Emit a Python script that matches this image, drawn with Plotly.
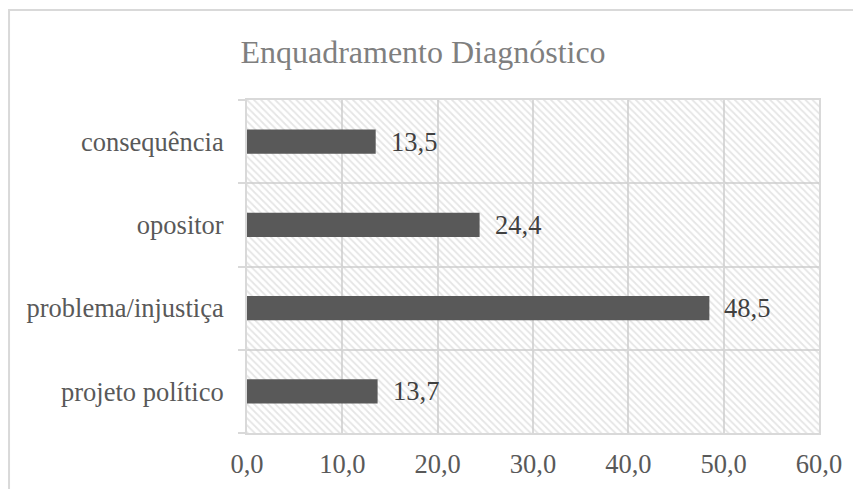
import plotly.graph_objects as go

# data
categories = ["projeto político", "problema/injustiça", "opositor", "consequência"]
values = [13.7, 48.5, 24.4, 13.5]
x_ticks = [0, 10, 20, 30, 40, 50, 60]

FONT = "Liberation Serif"
GRID = "#d9d9d9"

# the page body adds 8px on the top and left, so the figure is 8px smaller
W, H = 853, 481

fig = go.Figure()

# hatched plot background, on the hidden base axes
fig.add_trace(
    go.Scatter(
        x=[0, 1, 1, 0, 0],
        y=[0, 0, 1, 1, 0],
        mode="lines",
        line_width=0,
        fill="toself",
        fillcolor="rgba(0,0,0,0)",
        fillpattern=dict(
            shape="\\",
            size=5,
            solidity=0.35,
            fgcolor="#cccccc",
            bgcolor="rgba(0,0,0,0)",
        ),
        hoverinfo="skip",
        showlegend=False,
    )
)

fig.add_trace(
    go.Bar(
        x=values,
        y=categories,
        orientation="h",
        marker_color="#595959",
        marker_line_width=0,
        xaxis="x2",
        yaxis="y2",
        showlegend=False,
    )
)

for v, c in zip(values, categories):
    fig.add_annotation(
        x=v, y=c, xref="x2", yref="y2",
        text=f"{v:.1f}".replace(".", ","),
        showarrow=False,
        xanchor="left",
        xshift=13,
        font=dict(family=FONT, size=26.5, color="#404040"),
    )

# outer chart frame (cropped at right / bottom)
fig.add_shape(
    type="rect", xref="paper", yref="paper",
    x0=-0.416, x1=1.2, y0=-0.3, y1=1.27,
    line=dict(color=GRID, width=2),
    layer="below",
)

fig.update_layout(
    width=W,
    height=H,
    margin=dict(l=239, r=42, t=92, b=56),
    paper_bgcolor="white",
    plot_bgcolor="white",
    separators=",.",
    bargap=0.71,
    font=dict(family=FONT, size=26.5, color="#595959"),
    title=dict(
        text="Enquadramento Diagnóstico",
        x=415 / W, xanchor="center",
        y=1 - 44 / H, yanchor="middle",
        font=dict(family=FONT, size=32, color="#7f7f7f"),
    ),
    xaxis=dict(visible=False, range=[0, 1], fixedrange=True),
    yaxis=dict(visible=False, range=[0, 1], fixedrange=True),
    xaxis2=dict(
        overlaying="x",
        anchor="y2",
        side="bottom",
        range=[0, 60],
        tickvals=x_ticks,
        tickformat=".1f",
        showgrid=True,
        gridcolor=GRID,
        gridwidth=2,
        showline=True,
        mirror=True,
        linecolor=GRID,
        linewidth=2,
        zeroline=False,
        ticks="",
        ticklabelstandoff=6,
        automargin=False,
    ),
    yaxis2=dict(
        overlaying="y",
        anchor="x2",
        side="left",
        type="category",
        categoryorder="array",
        categoryarray=categories,
        tickson="boundaries",
        ticks="outside",
        ticklen=7,
        tickwidth=2,
        tickcolor=GRID,
        showgrid=True,
        gridcolor=GRID,
        gridwidth=2,
        showline=True,
        mirror=True,
        linecolor=GRID,
        linewidth=2,
        ticklabelstandoff=16,
        automargin=False,
    ),
)

fig.write_html("out.html")
